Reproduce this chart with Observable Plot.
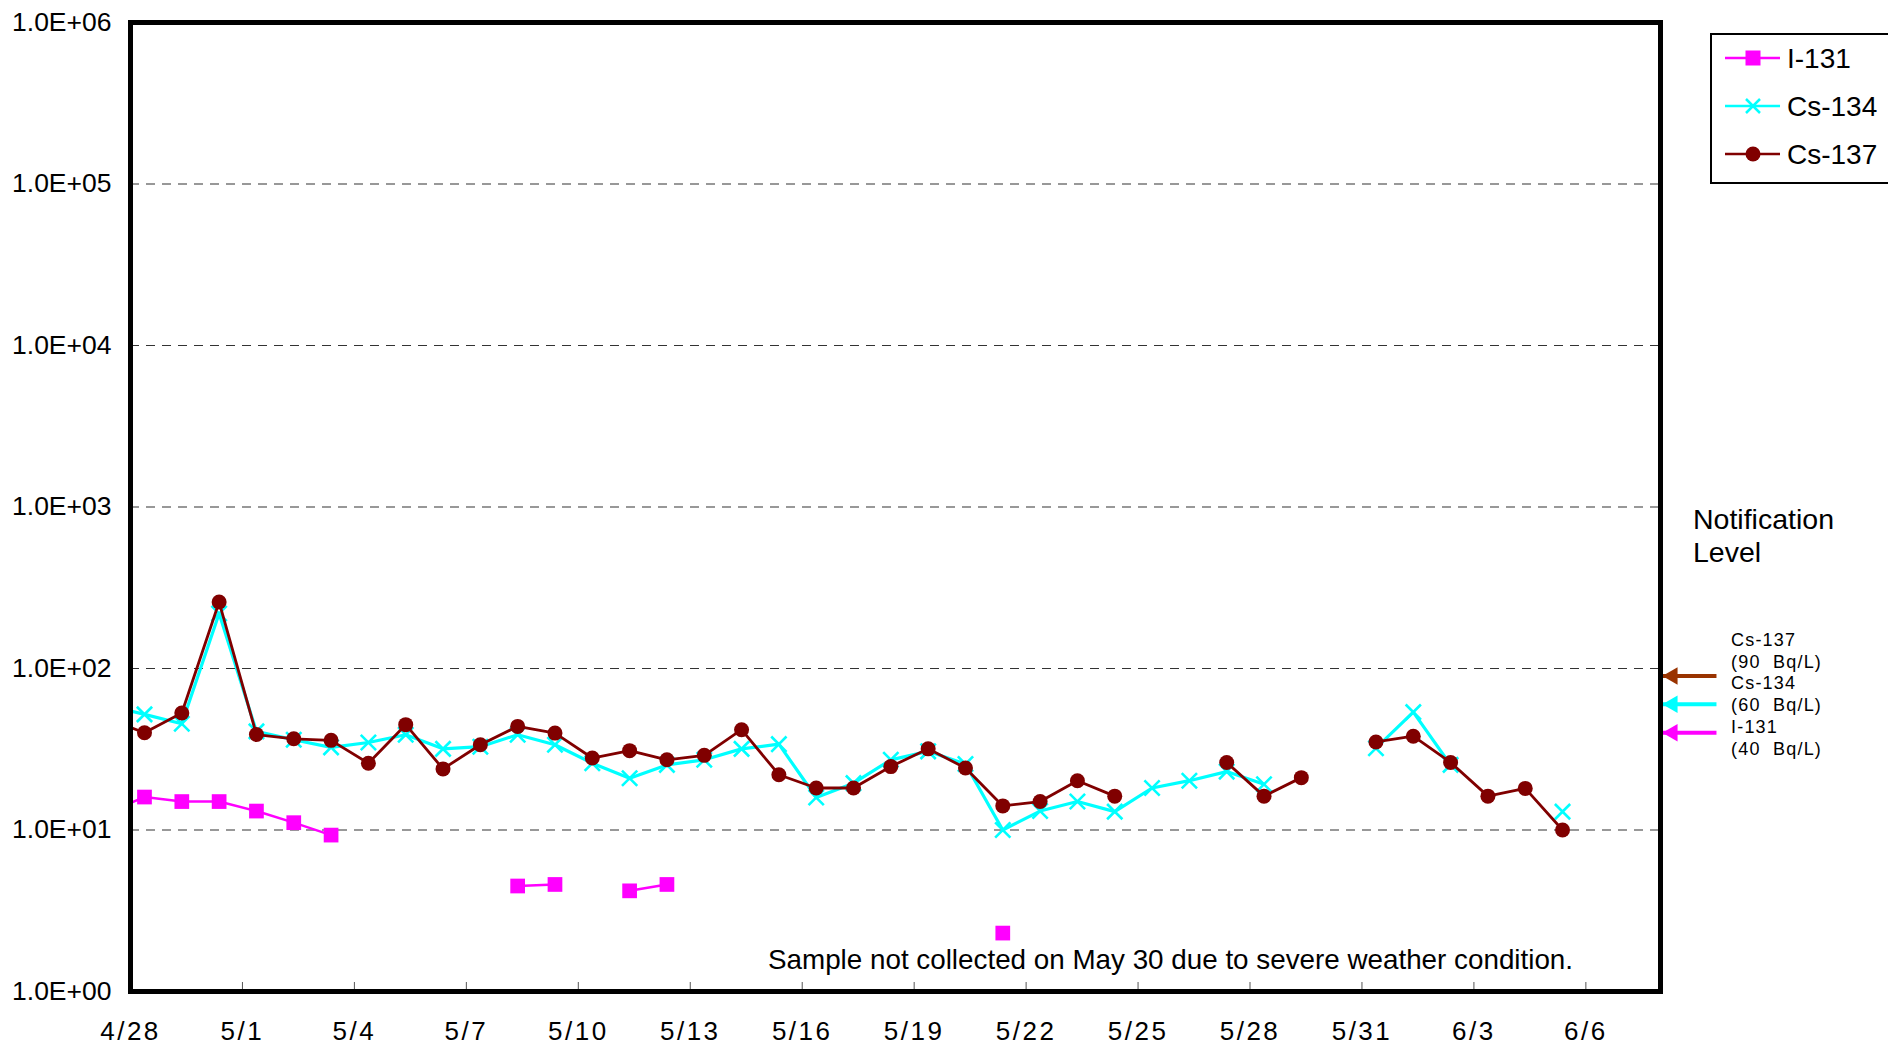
<!DOCTYPE html>
<html>
<head>
<meta charset="utf-8">
<script src="https://cdn.jsdelivr.net/npm/d3@7"></script>
<script src="https://cdn.jsdelivr.net/npm/@observablehq/plot@0.6"></script>
<style>
  html, body { margin: 0; padding: 0; background: #fff; }
  #wrap { position: relative; width: 1888px; height: 1046px; overflow: hidden; font-family: "Liberation Sans", Arial, sans-serif; color: #000; }
  #wrap svg.plot { position: absolute; left: 0; top: 0; }
  .note { position: absolute; white-space: pre; }
  g[aria-label="x-axis tick label"] text { letter-spacing: 2.5px; }
</style>
</head>
<body>
<div id="wrap"></div>
<script>
// ---------- data ----------
const year = 2011;
const sampleHour = 9; // samples taken in the morning
const dates = ["4/27","4/28","4/29","4/30","5/1","5/2","5/3","5/4","5/5","5/6","5/7","5/8","5/9","5/10",
  "5/11","5/12","5/13","5/14","5/15","5/16","5/17","5/18","5/19","5/20","5/21","5/22","5/23","5/24",
  "5/25","5/26","5/27","5/28","5/29","5/30","5/31","6/1","6/2","6/3","6/4","6/5"];
const i131 = [12.8,16.0,15.0,15.0,13.1,11.1,9.3,null,null,null,null,4.5,4.6,null,
  4.2,4.6,null,null,null,null,null,null,null,null,2.3,null,null,null,
  null,null,null,null,null,null,null,null,null,null,null,null];
const cs134 = [59,52,45.5,219,40.8,36.2,32.5,34.8,38.9,31.8,32.8,38.9,33.7,25.9,
  20.9,25.3,27.2,31.8,34.0,15.9,19.5,27.2,30.7,25.6,10.0,13.1,15.0,13.0,
  18.2,20.2,23.0,19.2,null,null,32.1,53.7,25.3,null,null,13.0];
const cs137 = [49,40,53,258,39,36.7,35.9,25.9,44.9,23.9,33.7,43.8,39.8,27.9,
  31.0,27.2,29.0,41.8,22.0,18.2,18.2,24.7,31.8,24.2,14.1,15.0,20.2,16.2,
  null,null,26.2,16.2,21.1,null,35.1,38.1,26.2,16.2,18.1,10.0];

const seriesNames = ["I-131","Cs-134","Cs-137"];
const seriesColors = ["#FF00FF","#00FFFF","#800000"];

const xTickLabels = ["4/28","5/1","5/4","5/7","5/10","5/13","5/16","5/19","5/22","5/25","5/28","5/31","6/3","6/6"];
const xDomainLabels = ["4/28","6/8"];
const yTickValues = [1,10,100,1000,10000,100000,1000000];
const yTickLabels = ["1.0E+00","1.0E+01","1.0E+02","1.0E+03","1.0E+04","1.0E+05","1.0E+06"];

const levelNames = ["Cs-137","Cs-134","I-131"];
const levelValues = [90,60,40];
const levelColors = ["#993300","#00FFFF","#FF00FF"];
const levelLabels = ["Cs-137","(90  Bq/L)","Cs-134","(60  Bq/L)","I-131","(40  Bq/L)"];
const arrowTailLabel = "6/9"; // arrow tail date (beyond the axis end), at noon

const caption = "Sample not collected on May 30 due to severe weather condition.";

// ---------- helpers ----------
const toDate = (md, h = 0) => { const [m, d] = md.split("/").map(Number); return new Date(Date.UTC(year, m - 1, d, h)); };
const rows = dates.map((d, i) => ({date: toDate(d, sampleHour), i131: i131[i], cs134: cs134[i], cs137: cs137[i]}));
const xTickDates = xTickLabels.map(l => toDate(l));
const xDomain = xDomainLabels.map(l => toDate(l));
const levels = levelNames.map((n, i) => ({name: n, value: levelValues[i], color: levelColors[i]}));
const arrowTip = xDomain[1];
const arrowTail = toDate(arrowTailLabel, 12);

const font = "Liberation Sans, Arial, sans-serif";

const chart = Plot.plot({
  width: 1888,
  height: 1046,
  marginLeft: 130,
  marginRight: 228,
  marginTop: 22,
  marginBottom: 55,
  style: {fontFamily: font, fontSize: "26px", color: "#000", background: "transparent", overflow: "visible"},
  x: {type: "utc", domain: xDomain},
  y: {type: "log", domain: [1, 1e6]},
  color: {type: "identity"},
  marks: [
    Plot.gridY(yTickValues.slice(1, -1), {stroke: "#333", strokeOpacity: 1, strokeWidth: 1.2, strokeDasharray: "9,7"}),
    Plot.axisY(yTickValues, {tickSize: 0, tickPadding: 19, fontSize: 26.5, tickFormat: d => yTickLabels[yTickValues.indexOf(d)]}),
    Plot.axisX(xTickDates, {tickSize: -9, stroke: "#555", text: null}),
    Plot.axisX(xTickDates, {tickSize: 0, tickPadding: 30, fontSize: 26, tickFormat: d => xTickLabels[xTickDates.findIndex(t => +t === +d)]}),
    // I-131
    Plot.line(rows, {x: "date", y: "i131", stroke: seriesColors[0], strokeWidth: 2.5, clip: true}),
    Plot.dot(rows, {x: "date", y: "i131", symbol: "square", fill: seriesColors[0], r: 8.3, clip: true}),
    // Cs-134
    Plot.line(rows, {x: "date", y: "cs134", stroke: seriesColors[1], strokeWidth: 3.2, clip: true}),
    Plot.dot(rows, {x: "date", y: "cs134", symbol: "times", stroke: seriesColors[1], strokeWidth: 2.6, r: 7, clip: true}),
    // Cs-137
    Plot.line(rows, {x: "date", y: "cs137", stroke: seriesColors[2], strokeWidth: 2.8, clip: true}),
    Plot.dot(rows, {x: "date", y: "cs137", symbol: "circle", fill: seriesColors[2], r: 7.5, clip: true}),
    // notification level arrows
    Plot.link(levels, {x1: () => arrowTip, x2: () => arrowTail, y1: "value", y2: "value", stroke: "color", strokeWidth: 4}),
    Plot.dot(levels, {x: () => arrowTip, y: "value", symbol: "triangle", rotate: -90, fill: "color", r: 6.5, dx: 12}),
    Plot.frame({stroke: "#000", strokeWidth: 5})
  ]
});
chart.classList.add("plot");
const wrap = document.getElementById("wrap");
wrap.appendChild(chart);

// caption inside plot area
const cap = document.createElement("div");
cap.className = "note";
cap.style.cssText = "left:768px;top:944px;font-size:27.8px;line-height:32px;";
cap.textContent = caption;
wrap.appendChild(cap);

// Notification Level title
const nl = document.createElement("div");
nl.className = "note";
nl.style.cssText = "left:1693px;top:503px;font-size:28.5px;line-height:33px;";
nl.textContent = "Notification\nLevel";
wrap.appendChild(nl);

// level labels
const ll = document.createElement("div");
ll.className = "note";
ll.style.cssText = "left:1731px;top:630px;font-size:18px;line-height:21.7px;letter-spacing:1.2px;";
ll.textContent = levelLabels.join("\n");
wrap.appendChild(ll);

// legend
const ns = "http://www.w3.org/2000/svg";
const lg = document.createElementNS(ns, "svg");
lg.setAttribute("width", 188);
lg.setAttribute("height", 200);
lg.style.cssText = "position:absolute;left:1700px;top:20px;";
const mk = (tag, attrs, text) => { const e = document.createElementNS(ns, tag); for (const k in attrs) e.setAttribute(k, attrs[k]); if (text) e.textContent = text; lg.appendChild(e); return e; };
mk("rect", {x: 11, y: 14, width: 200, height: 149, fill: "#fff", stroke: "#000", "stroke-width": 2});
seriesNames.forEach((name, i) => {
  const y = 38 + i * 48;
  const c = seriesColors[i];
  mk("line", {x1: 25, x2: 80, y1: y, y2: y, stroke: c, "stroke-width": 2.5});
  if (i === 0) mk("rect", {x: 45.5, y: y - 7.5, width: 15, height: 15, fill: c});
  if (i === 1) { mk("path", {d: `M${46},${y-7}L${60},${y+7}M${46},${y+7}L${60},${y-7}`, stroke: c, "stroke-width": 2.5}); }
  if (i === 2) mk("circle", {cx: 53, cy: y, r: 7.5, fill: c});
  mk("text", {x: 87, y: y + 10, "font-size": 28, "font-family": font, fill: "#000"}, name);
});
wrap.appendChild(lg);
</script>
</body>
</html>
